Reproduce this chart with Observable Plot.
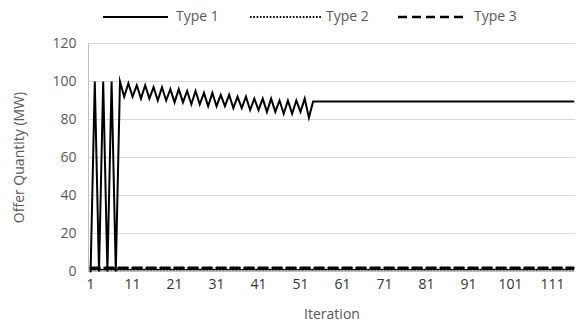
<!DOCTYPE html>
<html>
<head>
<meta charset="utf-8">
<script src="https://cdn.jsdelivr.net/npm/d3@7"></script>
<script src="https://cdn.jsdelivr.net/npm/@observablehq/plot@0.6"></script>
<style>
  html, body { margin: 0; padding: 0; background: #fff; }
  body { width: 577px; height: 324px; overflow: hidden; font-family: "Open Sans", sans-serif; color: #595959; }
  #legend { position: relative; height: 25px; font-size: 14px; }
  .sample { position: absolute; top: 12px; }
  .label { position: absolute; top: 7px; line-height: 18px; }
  #chart svg { display: block; }
</style>
</head>
<body>
<div id="legend"></div>
<div id="chart"></div>
<script>
// ---- data ----
const seriesNames = ["Type 1", "Type 2", "Type 3"];
const nIterations = 116;
const type1Start = [0, 100, 0, 100, 0, 100, 0, 100];          // iterations 1-8
const type1Lows  = [92, 92, 91, 91, 90, 90, 89, 89, 88, 88, 87, 87, 87, 86, 86, 85, 85, 84, 84, 83, 83, 84, 81]; // odd iterations 9..53
const type1Highs = [99, 98, 98, 97, 97, 96, 96, 95, 95, 94, 94, 93, 93, 92, 92, 91, 91, 91, 90, 90, 90, 91];     // even iterations 10..52
const type1Settled = 89.5;   // iterations 54 onward
const type2Level = 1;
const type3Level = 2;
const xTicks = [1, 11, 21, 31, 41, 51, 61, 71, 81, 91, 101, 111];
const yTicks = [0, 20, 40, 60, 80, 100, 120];

// ---- build table ----
const type1 = [...type1Start];
for (let k = 0; k < type1Lows.length; k++) {
  type1.push(type1Lows[k]);
  if (k < type1Highs.length) type1.push(type1Highs[k]);
}
while (type1.length < nIterations) type1.push(type1Settled);
const rows = [];
for (let i = 0; i < nIterations; i++) {
  rows.push({iter: i + 1, series: "Type 1", v: type1[i]});
  rows.push({iter: i + 1, series: "Type 2", v: type2Level});
  rows.push({iter: i + 1, series: "Type 3", v: type3Level});
}

const styles = {
  "Type 1": {strokeWidth: 2, dash: null},
  "Type 2": {strokeWidth: 1.8, dash: "1.6,1.7"},
  "Type 3": {strokeWidth: 2.6, dash: "9,5"}
};

// ---- legend ----
const legendPos = [{x: 103, w: 65, t: 176}, {x: 250, w: 72, t: 326}, {x: 398, w: 68, t: 474}];
const legend = document.getElementById("legend");
seriesNames.forEach((s, i) => {
  const st = styles[s];
  const svg = document.createElementNS("http://www.w3.org/2000/svg", "svg");
  svg.setAttribute("class", "sample");
  svg.setAttribute("width", legendPos[i].w);
  svg.setAttribute("height", 10);
  svg.style.left = legendPos[i].x + "px";
  svg.innerHTML = `<line x1="0" x2="${legendPos[i].w}" y1="5" y2="5" stroke="#000" stroke-width="${st.strokeWidth}" ${st.dash ? `stroke-dasharray="${st.dash}"` : ""}/>`;
  legend.appendChild(svg);
  const span = document.createElement("span");
  span.className = "label";
  span.style.left = legendPos[i].t + "px";
  span.textContent = s;
  legend.appendChild(span);
});

// ---- chart ----
const marks = [
  Plot.gridY(yTicks.filter(d => d > 0), {stroke: "#d9d9d9", strokeOpacity: 1, strokeWidth: 1}),
  Plot.ruleX([0.5], {stroke: "#bfbfbf"}),
  Plot.ruleY([0], {stroke: "#bfbfbf"}),
  Plot.axisY({ticks: yTicks, tickSize: 0, tickPadding: 12, fontSize: 14, fill: "#595959", label: "Offer Quantity (MW)", labelAnchor: "center", labelArrow: false, labelOffset: 74}),
  Plot.axisX({ticks: xTicks, tickSize: 0, tickPadding: 8, fontSize: 14, fill: "#333", label: null}),
  Plot.axisX({ticks: [], tickSize: 0, fontSize: 14, fill: "#595959", label: "Iteration", labelAnchor: "center", labelArrow: false, labelOffset: 47})
];
for (const s of ["Type 3", "Type 2", "Type 1"]) {
  const st = styles[s];
  marks.push(Plot.line(rows.filter(d => d.series === s), {
    x: "iter", y: "v", stroke: "#000", strokeWidth: st.strokeWidth,
    strokeDasharray: st.dash || undefined, strokeLinejoin: "miter", strokeMiterlimit: 10
  }));
}

const chart = Plot.plot({
  width: 577,
  height: 299,
  marginTop: 18,
  marginBottom: 53,
  marginLeft: 88,
  marginRight: 2,
  style: {fontFamily: "Open Sans, sans-serif", color: "#595959", fontSize: "14px", background: "#fff"},
  x: {domain: [0.5, nIterations + 0.5]},
  y: {domain: [0, 120]},
  marks
});
document.getElementById("chart").appendChild(chart);
</script>
</body>
</html>
